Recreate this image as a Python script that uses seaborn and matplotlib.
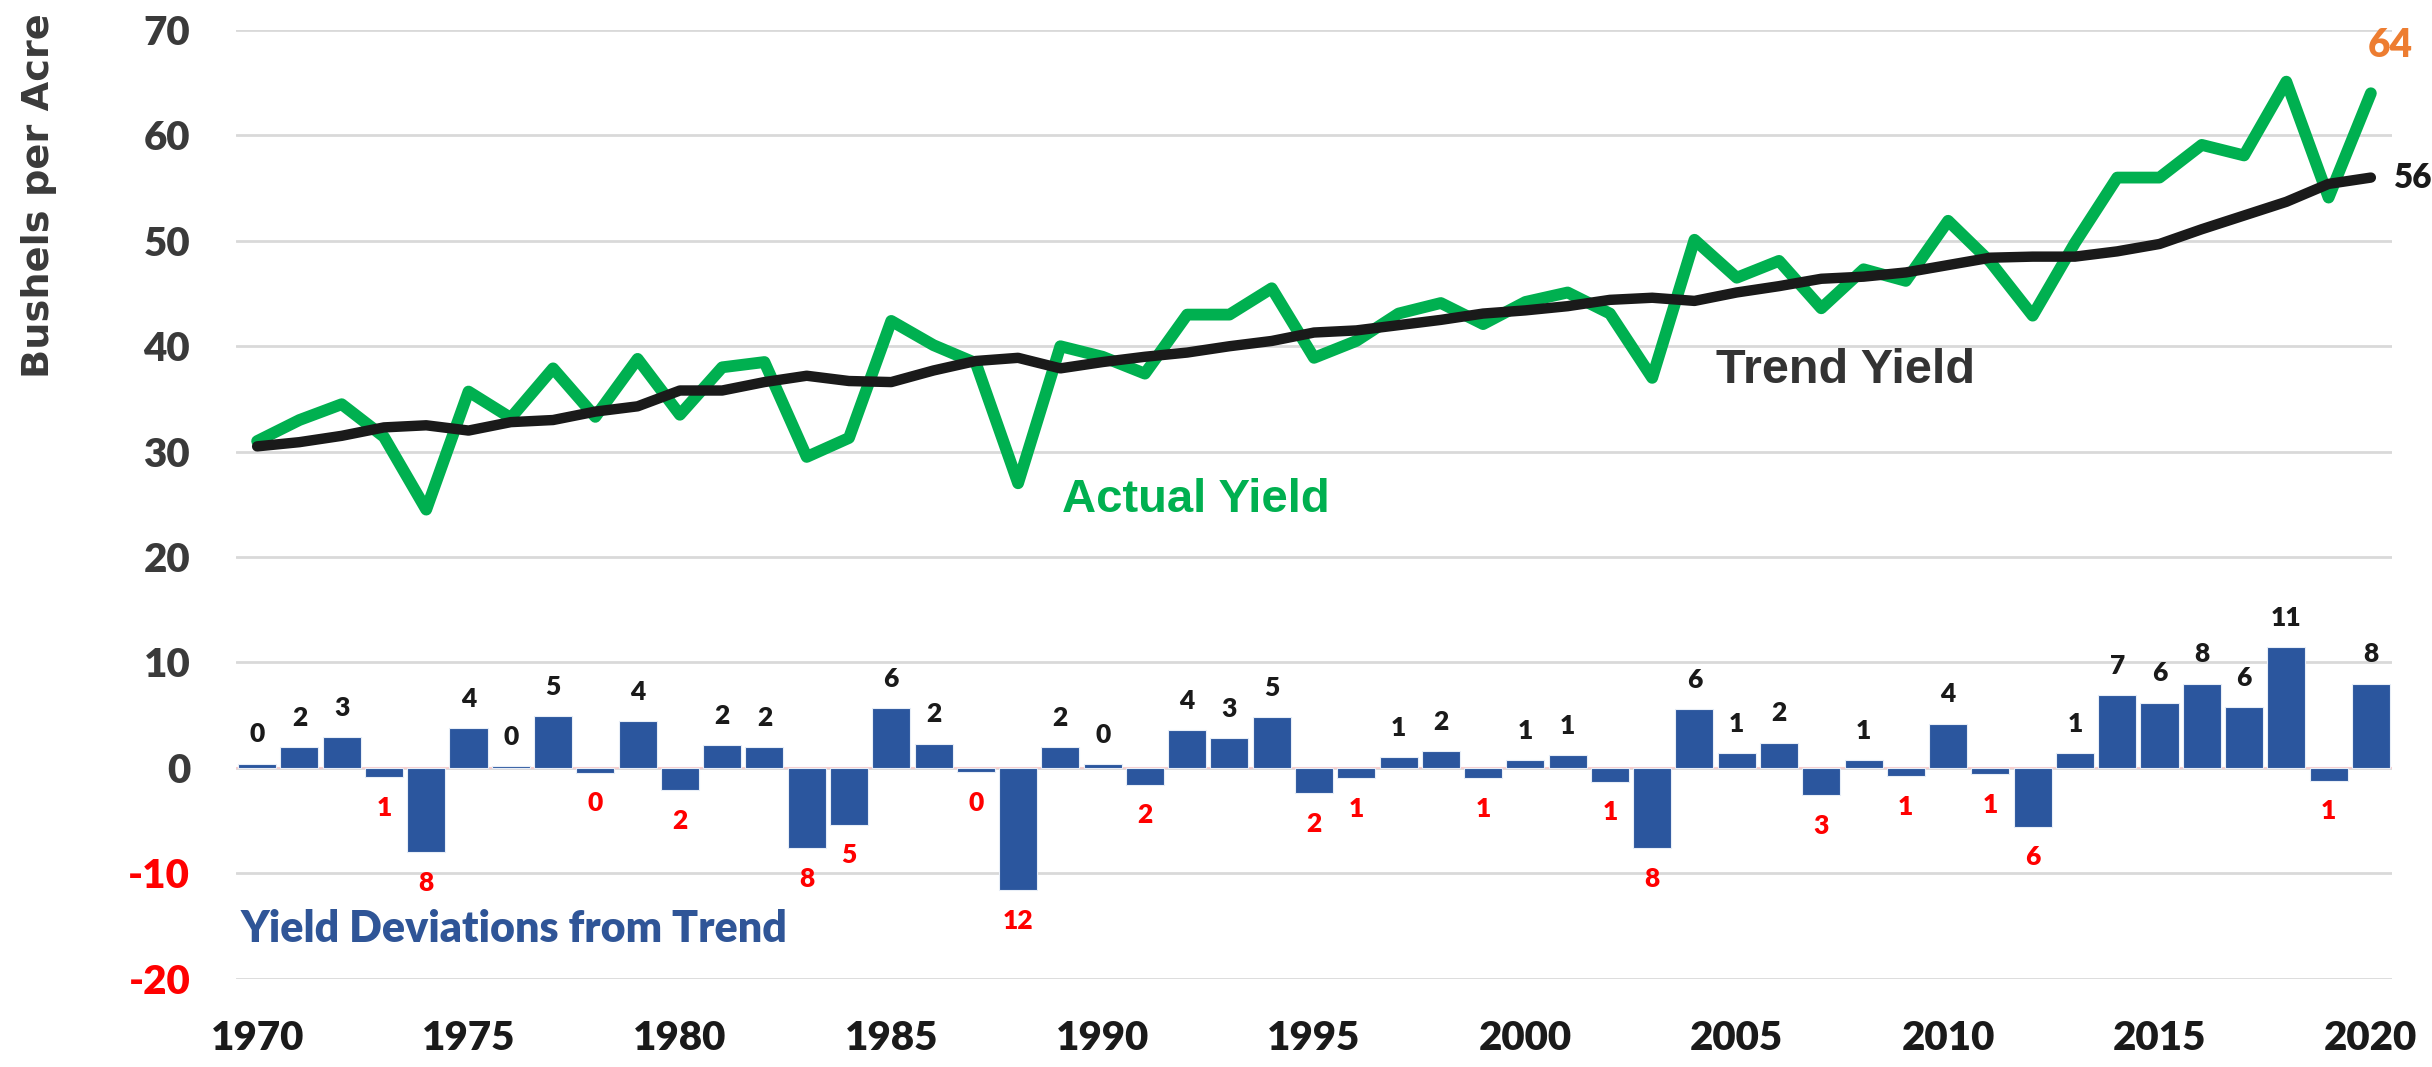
import matplotlib
matplotlib.use('Agg')
import matplotlib.pyplot as plt
from matplotlib import font_manager
import seaborn as sns

# Datos
years = list(range(1970, 2021))

actual = [31.0, 33.0, 34.5, 31.4, 24.5, 35.7, 33.2, 37.9, 33.3, 38.8,
          33.5, 38.0, 38.5, 29.5, 31.3, 42.4, 40.1, 38.4, 27.0, 40.0,
          39.0, 37.4, 43.0, 43.0, 45.5, 38.9, 40.5, 43.1, 44.1, 42.1,
          44.2, 45.1, 43.1, 37.0, 50.1, 46.5, 48.1, 43.6, 47.3, 46.2,
          51.9, 48.0, 42.9, 49.8, 56.0, 56.0, 59.1, 58.1, 65.1, 54.1, 64.0]

trend = [30.5, 30.9, 31.5, 32.3, 32.5, 32.0, 32.8, 33.0, 33.8, 34.3,
         35.8, 35.8, 36.6, 37.2, 36.7, 36.6, 37.7, 38.6, 38.9, 37.9,
         38.5, 39.0, 39.4, 40.0, 40.5, 41.3, 41.5, 42.0, 42.5, 43.1,
         43.4, 43.8, 44.4, 44.6, 44.3, 45.1, 45.7, 46.4, 46.6, 47.0,
         47.7, 48.4, 48.5, 48.5, 49.0, 49.7, 51.1, 52.4, 53.7, 55.4, 56.0]

deviation = [0.4, 2.0, 2.9, -0.9, -8.0, 3.8, 0.15, 4.9, -0.45, 4.4,
             -2.1, 2.2, 2.0, -7.6, -5.4, 5.7, 2.3, -0.4, -11.6, 2.0,
             0.35, -1.6, 3.6, 2.8, 4.8, -2.4, -1.0, 1.05, 1.6, -1.0,
             0.7, 1.25, -1.3, -7.6, 5.6, 1.4, 2.4, -2.6, 0.7, -0.8,
             4.2, -0.6, -5.6, 1.4, 6.9, 6.2, 8.0, 5.8, 11.45, -1.2, 8.0]

xticks = [1970, 1975, 1980, 1985, 1990, 1995, 2000, 2005, 2010, 2015, 2020]
yticks = [-20, -10, 0, 10, 20, 30, 40, 50, 60, 70]

sns.set_style('white')

disponibles = {f.name for f in font_manager.fontManager.ttflist}
fuente = 'Lato' if 'Lato' in disponibles else 'DejaVu Sans'
fuente_titulos = 'Liberation Sans' if 'Liberation Sans' in disponibles else 'DejaVu Sans'
plt.rcParams['font.family'] = [fuente, 'DejaVu Sans']

W, H = 2432, 1067
fig = plt.figure(figsize=(W / 100, H / 100), dpi=100)
ax = fig.add_axes([236 / W, 1 - 978.7 / H, (2392 - 236) / W, (978.7 - 30) / H])

verde = '#00B050'
negro = '#1a1a1a'
azul = '#2B569E'
rojo = '#FF0000'
gris = '#3a3a3a'

ax.axhline(0, color='#f6cfcf', lw=1.5, zorder=1)

sns.barplot(x=years, y=deviation, native_scale=True, color=azul, width=0.9,
            saturation=1, edgecolor='#e8eef7', linewidth=0.8, errorbar=None,
            ax=ax, zorder=2)

sns.lineplot(x=years, y=actual, color=verde, lw=8.5, ax=ax, zorder=3,
             solid_joinstyle='round', solid_capstyle='round')
sns.lineplot(x=years, y=trend, color=negro, lw=7.5, ax=ax, zorder=4,
             solid_joinstyle='round', solid_capstyle='round')

# Etiquetas de las barras: negras arriba, rojas (valor absoluto) abajo
for yr, v in zip(years, deviation):
    if v >= 0:
        ax.annotate(f'{round(v):d}', (yr, v), xytext=(0, 21), textcoords='offset points',
                    ha='center', va='center', fontsize=19, fontweight='heavy', color=negro)
    else:
        ax.annotate(f'{round(abs(v)):d}', (yr, v), xytext=(0, -22), textcoords='offset points',
                    ha='center', va='center', fontsize=19, fontweight='heavy', color=rojo)

ax.set_xlim(1969.5, 2020.5)
ax.set_ylim(-20, 70)
ax.set_xticks(xticks)
ax.set_yticks(yticks)
ax.set_xticklabels([str(t) for t in xticks], fontsize=29, fontweight='heavy', color=negro)
ax.set_yticklabels([str(t) for t in yticks], fontsize=29, fontweight='heavy')
for lab, t in zip(ax.get_yticklabels(), yticks):
    lab.set_color(rojo if t < 0 else gris)
ax.tick_params(axis='x', length=0, pad=30)
ax.tick_params(axis='y', length=0, pad=33)
ax.set_xlabel('')
ax.set_ylabel('')

ax.grid(axis='y', color='#d9d9d9', lw=2)
ax.grid(axis='x', visible=False)
ax.set_axisbelow(True)
for s in ax.spines.values():
    s.set_visible(False)

# Textos dentro del gráfico
ax.text(1989.05, 25.4, 'Actual Yield', color=verde, fontsize=34, fontweight='bold',
        family=fuente_titulos, ha='left', va='center')
ax.text(2004.5, 37.7, 'Trend Yield', color='#333333', fontsize=35, fontweight='bold',
        family=fuente_titulos, ha='left', va='center')
ax.text(1969.6, -15.3, 'Yield Deviations from Trend', color='#2F5597', fontsize=31,
        fontweight='heavy', ha='left', va='center')
ax.text(2020.45, 68.5, '64', color='#ED7D31', fontsize=28, fontweight='heavy',
        ha='center', va='center', clip_on=False)
ax.text(2020.55, 56.0, '56', color=negro, fontsize=24, fontweight='heavy',
        ha='left', va='center', clip_on=False)

fig.text(39 / W, 1 - 196 / H, 'Bushels per Acre', rotation=90, ha='center', va='center',
         fontsize=27.5, fontweight='bold', color=gris, family='DejaVu Sans')

fig.savefig('out.png', dpi=100)
print(fuente, fuente_titulos)
